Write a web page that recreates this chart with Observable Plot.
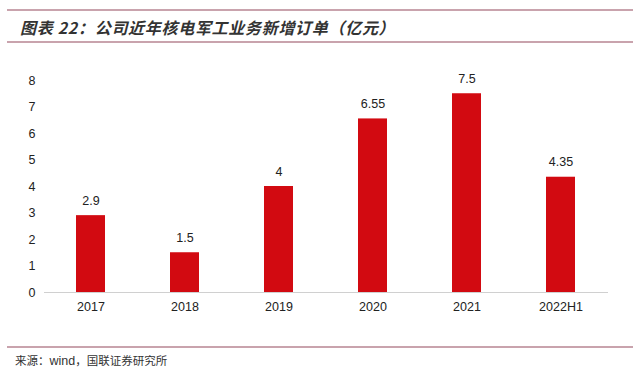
<!DOCTYPE html>
<html>
<head>
<meta charset="utf-8">
<script src="https://cdn.jsdelivr.net/npm/d3@7"></script>
<script src="https://cdn.jsdelivr.net/npm/@observablehq/plot@0.6"></script>
<style>
  html, body { margin: 0; padding: 0; background: #fff; width: 640px; height: 372px; overflow: hidden; }
  #wrap { position: relative; width: 640px; height: 372px; font-family: "Liberation Sans", Arial, sans-serif; }
  .rule { position: absolute; left: 7px; width: 626px; height: 2px; background: #c9a3ad; }
  #title { position: absolute; left: 20px; top: 17px; font-family: "Noto Sans CJK SC", sans-serif; font-size: 16px; font-weight: bold; font-style: italic; color: #333; letter-spacing: 0.7px; white-space: nowrap; line-height: 20px; }
  #chart { position: absolute; left: 0; top: 50px; }
  #caption { position: absolute; left: 15px; top: 352px; font-family: "Noto Sans CJK SC", sans-serif; font-size: 11.5px; color: #333; white-space: nowrap; line-height: 16px; }
  #caption .lat { font-family: "Liberation Sans", Arial, sans-serif; font-size: 12.5px; }
</style>
</head>
<body>
<div id="wrap">
  <div class="rule" style="top:9px"></div>
  <div id="title">图表 22：公司近年核电军工业务新增订单（亿元）</div>
  <div class="rule" style="top:41px"></div>
  <div id="chart"></div>
  <div class="rule" style="top:346px; height:1.5px"></div>
  <div id="caption">来源：<span class="lat">wind</span>，国联证券研究所</div>
</div>
<script>
const categories = ["2017", "2018", "2019", "2020", "2021", "2022H1"];
const values = [2.9, 1.5, 4, 6.55, 7.5, 4.35];
const labels = ["2.9", "1.5", "4", "6.55", "7.5", "4.35"];
const yTicks = [0, 1, 2, 3, 4, 5, 6, 7, 8];

const data = categories.map((c, i) => ({ cat: c, value: values[i], label: labels[i] }));

const chart = Plot.plot({
  width: 640,
  height: 290,
  marginTop: 30,
  marginBottom: 48,
  marginLeft: 44,
  marginRight: 32,
  style: { fontFamily: "Liberation Sans, Arial, sans-serif", fontSize: "12.5px", color: "#222", background: "transparent" },
  x: { domain: categories, paddingInner: 0.69, paddingOuter: 0.345, align: 0.5, label: null, tickSize: 0, tickPadding: 10 },
  y: { domain: [0, 8], ticks: yTicks, label: null, tickSize: 0, tickPadding: 9, tickFormat: d3.format("d") },
  marks: [
    Plot.barY(data, { x: "cat", y: "value", fill: "#d20a11" }),
    Plot.ruleY([0], { stroke: "#d0d0d0", strokeWidth: 1.2 }),
    Plot.text(data, { x: "cat", y: "value", text: "label", dy: -15, fill: "#222", fontSize: 12.5 })
  ]
});
chart.querySelectorAll("[aria-label='x-axis tick label'] text, [aria-label='y-axis tick label'] text").forEach(t => t.setAttribute("fill", "#222"));
document.getElementById("chart").appendChild(chart);
</script>
</body>
</html>
